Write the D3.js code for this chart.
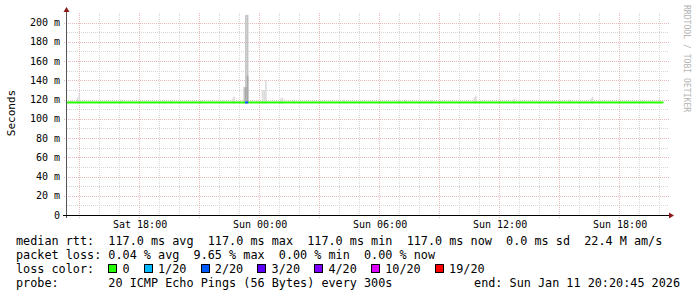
<!DOCTYPE html>
<html>
<head>
	<script src="https://d3js.org/d3.v7.min.js"></script>
	<style>
		body { margin: 0; background: #fff; }
		text { font-family: "DejaVu Sans Mono", monospace; }
	</style>
</head>
<body>
	<div class="chart"></div>
	<script>
		// graph info
		var w = 697, h = 297;
		var plotLeft = 67, plotRight = 667, plotBottom = 215, plotTop = 13;

		var startTime = new Date(2026, 0, 10, 14, 20, 45),
			endTime = new Date(2026, 0, 11, 20, 20, 45);

		// y axis ticks (ms)
		var yMajor = [0, 20, 40, 60, 80, 100, 120, 140, 160, 180, 200];
		var yMinor = [10, 30, 50, 70, 90, 110, 130, 150, 170, 190];

		// median rtt segments: start, end, rtt (ms), lost pings of 20
		var segStart = ["2026-01-10T14:20", "2026-01-10T23:15", "2026-01-10T23:25"];
		var segEnd   = ["2026-01-10T23:15", "2026-01-10T23:25", "2026-01-11T20:10"];
		var segRtt   = [117, 117, 117];
		var segLoss  = [0, 2, 0];

		// smoke: time of 5 minute step, top of smoke (ms), level (0 light .. 2 dark)
		var smokeTime = ["2026-01-10T14:50", "2026-01-10T14:55", "2026-01-10T17:00", "2026-01-10T19:10",
			"2026-01-10T19:30", "2026-01-10T21:00", "2026-01-10T22:05", "2026-01-10T22:35",
			"2026-01-10T22:40", "2026-01-10T23:10", "2026-01-10T23:15", "2026-01-10T23:15",
			"2026-01-10T23:20", "2026-01-10T23:20", "2026-01-11T00:05", "2026-01-11T00:10",
			"2026-01-11T00:15", "2026-01-11T01:00", "2026-01-11T01:05", "2026-01-11T01:40",
			"2026-01-11T04:10", "2026-01-11T06:55", "2026-01-11T07:15", "2026-01-11T08:30",
			"2026-01-11T10:40", "2026-01-11T10:45", "2026-01-11T12:40", "2026-01-11T15:25",
			"2026-01-11T16:30", "2026-01-11T16:35", "2026-01-11T19:05", "2026-01-11T19:55"];
		var smokeTop = [122, 126, 120, 119,
			119, 119, 120, 121,
			123, 133, 208, 133,
			208, 145, 130, 130,
			140, 121, 122, 120,
			120, 120, 120, 120,
			122, 124, 121, 120,
			121, 123, 120, 121];
		var smokeLevel = [0, 0, 0, 0,
			0, 0, 0, 0,
			0, 1, 1, 2,
			1, 2, 0, 0,
			0, 0, 0, 0,
			0, 0, 0, 0,
			0, 0, 0, 0,
			0, 0, 0, 0];

		// legend
		var lossLabels = ["0", "1/20", "2/20", "3/20", "4/20", "10/20", "19/20"];
		var lossValues = [0, 1, 2, 3, 4, 10, 19];
		var lossColors = ["#26ff00", "#00b8ff", "#0059ff", "#5e00ff", "#7e00ff", "#dd00ff", "#ff0000"];
		var rttLine = "median rtt:  117.0 ms avg  117.0 ms max  117.0 ms min  117.0 ms now  0.0 ms sd  22.4 M am/s";
		var lossLine = "packet loss: 0.04 % avg  9.65 % max  0.00 % min  0.00 % now";
		var probeLine = "probe:       20 ICMP Echo Pings (56 Bytes) every 300s";
		var endLine = "end: Sun Jan 11 20:20:45 2026";

		var smokeColors = ["#dcdcdc", "#c4c4c4", "#a8a8a8"];

		// keep runs of spaces in svg text
		function keep(s) { return s.replace(/ /g, "\u00a0"); }

		var svg = d3.select(".chart")
			.append("svg")
			.attr("width", w)
			.attr("height", h);

		svg.append("rect")
			.attr("width", w)
			.attr("height", h)
			.attr("fill", "#fff");

		var x = d3.scaleTime().domain([startTime, endTime]).range([plotLeft, plotRight]);
		var y = d3.scaleLinear().domain([0, 210]).range([plotBottom, plotTop]);
		var parse = function(s) { return new Date(s); };

		// grid
		var grid = svg.append("g").attr("class", "grid");
		grid.selectAll(".hminor")
			.data(yMinor)
			.enter()
			.append("line")
			.attr("x1", plotLeft).attr("x2", plotRight + 2)
			.attr("y1", function(d) { return Math.round(y(d)) + 0.5; })
			.attr("y2", function(d) { return Math.round(y(d)) + 0.5; })
			.attr("stroke", "#d6d6d6")
			.attr("stroke-dasharray", "1,1");
		var hours = x.ticks(d3.timeHour.every(1));
		grid.selectAll(".vminor")
			.data(hours.filter(function(d) { return d.getHours() % 3 != 0; }))
			.enter()
			.append("line")
			.attr("x1", function(d) { return Math.round(x(d)) - 0.5; })
			.attr("x2", function(d) { return Math.round(x(d)) - 0.5; })
			.attr("y1", plotTop).attr("y2", plotBottom)
			.attr("stroke", "#d6d6d6")
			.attr("stroke-dasharray", "1,1");
		grid.selectAll(".hmajor")
			.data(yMajor.slice(1))
			.enter()
			.append("line")
			.attr("x1", plotLeft - 3).attr("x2", plotRight + 2)
			.attr("y1", function(d) { return Math.round(y(d)) + 0.5; })
			.attr("y2", function(d) { return Math.round(y(d)) + 0.5; })
			.attr("stroke", "#e6b8b8")
			.attr("stroke-dasharray", "1,1");
		grid.selectAll(".vmajor")
			.data(hours.filter(function(d) { return d.getHours() % 3 == 0; }))
			.enter()
			.append("line")
			.attr("x1", function(d) { return Math.round(x(d)) - 0.5; })
			.attr("x2", function(d) { return Math.round(x(d)) - 0.5; })
			.attr("y1", plotTop).attr("y2", plotBottom + 3)
			.attr("stroke", "#e6b8b8")
			.attr("stroke-dasharray", "1,1");

		// smoke
		var step = 5 * 60 * 1000;
		svg.append("g")
			.selectAll("rect")
			.data(smokeTime.map(function(t, i) { return {t: parse(t), top: smokeTop[i], level: smokeLevel[i]}; }))
			.enter()
			.append("rect")
			.attr("x", function(d) { return x(d.t); })
			.attr("width", function(d) { return x(new Date(+d.t + step)) - x(d.t); })
			.attr("y", function(d) { return y(d.top); })
			.attr("height", function(d) { return y(116) - y(d.top); })
			.attr("fill", function(d) { return smokeColors[d.level]; });

		// median line, coloured by loss
		svg.append("g")
			.selectAll("rect")
			.data(segStart.map(function(s, i) { return {s: parse(s), e: parse(segEnd[i]), rtt: segRtt[i], loss: segLoss[i]}; }))
			.enter()
			.append("rect")
			.attr("x", function(d) { return x(d.s); })
			.attr("width", function(d) { return x(d.e) - x(d.s); })
			.attr("y", function(d) { return y(d.rtt) - 1; })
			.attr("height", 2)
			.attr("fill", function(d) { return lossColors[lossValues.indexOf(d.loss)]; });

		// axes
		svg.append("line")
			.attr("x1", plotLeft - 0.5).attr("x2", plotLeft - 0.5)
			.attr("y1", plotTop - 2).attr("y2", plotBottom + 3)
			.attr("stroke", "#555");
		svg.append("line")
			.attr("x1", plotLeft - 4).attr("x2", plotRight + 4)
			.attr("y1", plotBottom + 0.5).attr("y2", plotBottom + 0.5)
			.attr("stroke", "#000");
		svg.append("path")
			.attr("d", "M" + (plotLeft - 3.5) + "," + (plotTop - 1) + "L" + (plotLeft + 2.5) + "," + (plotTop - 1) + "L" + (plotLeft - 0.5) + "," + (plotTop - 6) + "Z")
			.attr("fill", "#8b1a1a");
		svg.append("path")
			.attr("d", "M" + (plotRight + 2) + "," + (plotBottom - 2.5) + "L" + (plotRight + 2) + "," + (plotBottom + 3.5) + "L" + (plotRight + 7) + "," + (plotBottom + 0.5) + "Z")
			.attr("fill", "#8b1a1a");

		// tick labels
		svg.append("g")
			.selectAll("text")
			.data(yMajor)
			.enter()
			.append("text")
			.attr("x", 60)
			.attr("y", function(d) { return y(d) + 3.5; })
			.attr("text-anchor", "end")
			.attr("font-size", "10px")
			.text(function(d) { return d == 0 ? "0" : keep(d + " m"); });
		svg.append("g")
			.selectAll("text")
			.data(x.ticks(d3.timeHour.every(6)))
			.enter()
			.append("text")
			.attr("x", function(d) { return x(d); })
			.attr("y", 228)
			.attr("text-anchor", "middle")
			.attr("font-size", "10px")
			.text(function(d) { return keep(d3.timeFormat("%a %H:%M")(d)); });

		svg.append("text")
			.attr("transform", "translate(15,113)rotate(-90)")
			.attr("text-anchor", "middle")
			.attr("font-size", "11px")
			.text("Seconds");

		svg.append("text")
			.attr("transform", "translate(684,5)rotate(90)")
			.attr("font-size", "8.1px")
			.attr("fill", "#b4b4b4")
			.text(keep("RRDTOOL / TOBI OETIKER"));

		// legend
		var cw = 7.1, lx = 16;
		var legend = svg.append("g")
			.attr("font-size", "11.8px");
		legend.append("text").attr("x", lx).attr("y", 244.5).text(keep(rttLine));
		legend.append("text").attr("x", lx).attr("y", 258.5).text(keep(lossLine));
		legend.append("text").attr("x", lx).attr("y", 272.5).text(keep("loss color:"));
		legend.append("text").attr("x", lx).attr("y", 286.5).text(keep(probeLine));
		legend.append("text").attr("x", 680).attr("y", 286.5).attr("text-anchor", "end").text(keep(endLine));

		var col = 13;
		lossLabels.forEach(function(l, i) {
			legend.append("rect")
				.attr("x", Math.round(lx + col * cw) + 0.5)
				.attr("y", 264.5)
				.attr("width", 8)
				.attr("height", 8)
				.attr("fill", lossColors[i])
				.attr("stroke", "#000");
			legend.append("text")
				.attr("x", lx + (col + 2) * cw)
				.attr("y", 272.5)
				.text(l);
			col += 2 + l.length + 2;
		});
	</script>
</body>
</html>
